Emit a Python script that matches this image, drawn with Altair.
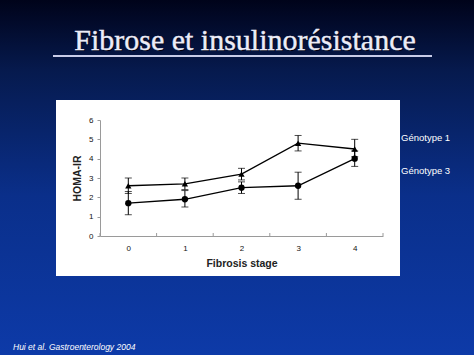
import altair as alt
import pandas as pd

stages = [0, 1, 2, 3, 4]
g1_mean = [2.6, 2.7, 3.2, 4.8, 4.5]
g1_lo = [2.2, 2.4, 2.9, 4.4, 4.1]
g1_hi = [3.0, 3.0, 3.5, 5.2, 5.0]
g3_mean = [1.7, 1.9, 2.5, 2.6, 4.0]
g3_lo = [1.1, 1.5, 2.2, 1.9, 3.6]
g3_hi = [2.3, 2.35, 2.8, 3.3, 4.4]
tick_positions = [-0.5, 0.5, 1.5, 2.5, 3.5, 4.5]

rows = []
for i, s in enumerate(stages):
    rows.append({"stage": s, "g": "Génotype 1", "v": g1_mean[i], "lo": g1_lo[i], "hi": g1_hi[i]})
    rows.append({"stage": s, "g": "Génotype 3", "v": g3_mean[i], "lo": g3_lo[i], "hi": g3_hi[i]})
df = pd.DataFrame(rows)

W, H = 283, 116
PL, PT = 100, 120

one = pd.DataFrame({"a": [0]})

bg = alt.Chart(one).mark_rect(
    color=alt.Gradient(
        gradient="linear",
        stops=[alt.GradientStop(color="#00031a", offset=0),
               alt.GradientStop(color="#061a4e", offset=0.2),
               alt.GradientStop(color="#0a2f8a", offset=0.55),
               alt.GradientStop(color="#0d3aa8", offset=1)],
        x1=0, x2=0, y1=0, y2=1),
    clip=False,
).encode(x=alt.value(-PL), x2=alt.value(474 - PL), y=alt.value(-PT), y2=alt.value(355 - PT))

panel = alt.Chart(one).mark_rect(color="white", clip=False).encode(
    x=alt.value(56 - PL), x2=alt.value(400 - PL), y=alt.value(100 - PT), y2=alt.value(276 - PT))

title_shadow = alt.Chart(one).mark_text(
    text="Fibrose et insulinorésistance", font="Liberation Serif", fontSize=30,
    color="#000010", align="center", baseline="alphabetic",
).encode(x=alt.value(246 - PL), y=alt.value(51 - PT))

title = alt.Chart(one).mark_text(
    text="Fibrose et insulinorésistance", font="Liberation Serif", fontSize=30,
    color="#ececf8", align="center", baseline="alphabetic",
    stroke="#ececf8", strokeWidth=0.4,
).encode(x=alt.value(245 - PL), y=alt.value(50 - PT))

underline = alt.Chart(one).mark_rule(color="#c8cce8", strokeWidth=1.8).encode(
    x=alt.value(53 - PL), x2=alt.value(432 - PL), y=alt.value(56 - PT))

footer = alt.Chart(one).mark_text(
    text="Hui et al. Gastroenterology 2004", font="Liberation Sans", fontSize=8.5,
    fontStyle="italic", color="white", align="left", baseline="middle",
).encode(x=alt.value(13 - PL), y=alt.value(347 - PT))

lab_df = pd.DataFrame({"t": ["Génotype 1", "Génotype 3"], "yy": [138 - PT, 171 - PT]})
labels = alt.Chart(lab_df).mark_text(
    font="Liberation Sans", fontSize=9.5, color="white", align="left", baseline="middle",
).encode(x=alt.value(401 - PL), y=alt.Y("yy:Q", scale=None), text="t:N")

xscale = alt.Scale(domain=[-0.5, 4.5], nice=False, zero=False)
xaxis = alt.Axis(title="Fibrosis stage", values=stages, format="d", labelAngle=0, grid=False,
                 ticks=False, domainColor="#9a9a9a",
                 labelColor="#111111", labelFont="Liberation Sans", labelFontSize=8,
                 labelPadding=8, titleFont="Liberation Sans", titleFontSize=10.5,
                 titleFontWeight="bold", titleColor="#222222", titlePadding=6,
                 zindex=1)
xenc = alt.X("stage:Q", scale=xscale, axis=xaxis)
yscale = alt.Scale(domain=[0, 6], nice=False)
yaxis = alt.Axis(title="HOMA-IR", values=[0, 1, 2, 3, 4, 5, 6], grid=False,
                 domainColor="#9a9a9a", tickColor="#9a9a9a", tickSize=3,
                 labelColor="#111111", labelFont="Liberation Sans", labelFontSize=8,
                 labelPadding=4, titleFont="Liberation Sans", titleFontSize=10.5,
                 titleFontWeight="bold", titleColor="#222222", titlePadding=6, zindex=1)

tick_df = pd.DataFrame({"tp": tick_positions})
xticks = alt.Chart(tick_df).mark_rule(color="#9a9a9a", strokeWidth=1).encode(
    x=alt.X("tp:Q", scale=xscale, axis=xaxis), y=alt.value(H - 3), y2=alt.value(H))

base = alt.Chart(df)
errs = base.mark_errorbar(ticks=alt.MarkConfig(size=7), color="black", thickness=1).encode(
    x=xenc, y=alt.Y("lo:Q", scale=yscale, axis=yaxis), y2="hi:Q", detail="g:N")
lines = base.mark_line(color="black", strokeWidth=1.3).encode(
    x=xenc, y=alt.Y("v:Q", scale=yscale, axis=yaxis), detail="g:N")
pts = base.mark_point(filled=True, color="black", opacity=1, size=40).encode(
    x=xenc, y=alt.Y("v:Q", scale=yscale, axis=yaxis),
    shape=alt.Shape("g:N", scale=alt.Scale(domain=["Génotype 1", "Génotype 3"],
                                          range=["triangle-up", "circle"]), legend=None))

chart = alt.layer(bg, panel, title_shadow, title, underline, footer, labels,
                  xticks, errs, lines, pts).properties(
    width=W, height=H,
    padding={"left": PL, "top": PT, "right": 474 - PL - W, "bottom": 355 - PT - H},
    autosize=alt.AutoSizeParams(type="none"),
    background="#0a2a80",
).configure_view(strokeWidth=0)

chart.save("out.html", embed_options={"renderer": "svg", "actions": False})
